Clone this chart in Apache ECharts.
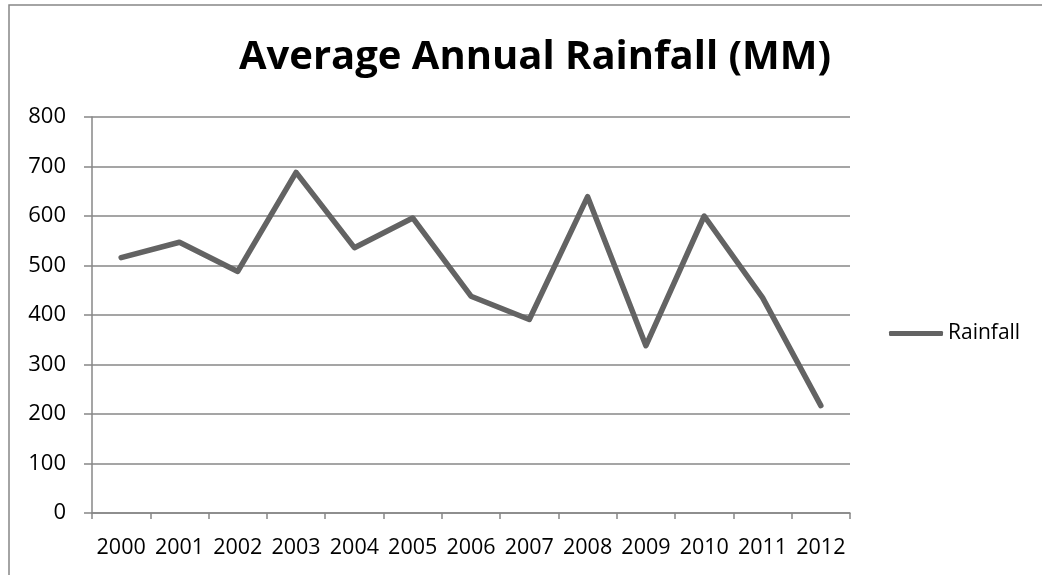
<!DOCTYPE html>
<html><head><meta charset="utf-8">
<script src="https://cdn.jsdelivr.net/npm/echarts@6/dist/echarts.min.js"></script>
<style>html,body{margin:0;padding:0;background:#fff}#c{width:1042px;height:575px}</style>
</head><body><div id="c"></div>
<script>
var years = ['2000','2001','2002','2003','2004','2005','2006','2007','2008','2009','2010','2011','2012'];
var rainfall = [516, 547, 488, 688, 536, 596, 438, 391, 639, 338, 600, 435, 217];
var yTicks = [0, 100, 200, 300, 400, 500, 600, 700, 800];
var seriesName = 'Rainfall';
var titleText = 'Average Annual Rainfall (MM)';

var FONT = '"Open Sans", "Noto Sans", sans-serif';
var chart = echarts.init(document.getElementById('c'));
chart.setOption({
  animation: false,
  title: {
    text: titleText, left: 530, top: 33, textAlign: 'center',
    textStyle: {fontFamily: FONT, fontSize: 40, fontWeight: 'bold', color: '#000'}
  },
  legend: {
    data: [seriesName], left: 889, top: 323, padding: 0, itemWidth: 54, itemHeight: 5,
    icon: 'roundRect',
    textStyle: {fontFamily: FONT, fontSize: 21, color: '#000'}
  },
  graphic: [{
    type: 'rect', shape: {x: 9, y: 5, width: 1100, height: 700}, silent: true,
    style: {fill: 'none', stroke: '#878787', lineWidth: 1.5}
  }],
  grid: {left: 92, right: 192, top: 117, bottom: 62},
  xAxis: {
    type: 'category', data: years, boundaryGap: true,
    axisLine: {lineStyle: {color: '#878787', width: 1.5}},
    axisTick: {show: true, length: 6, alignWithLabel: false, lineStyle: {color: '#878787', width: 1.5}},
    axisLabel: {fontFamily: FONT, fontSize: 21.5, color: '#000', margin: 24, interval: 0}
  },
  yAxis: {
    type: 'value', min: yTicks[0], max: yTicks[yTicks.length-1], interval: 100,
    axisLine: {show: true, lineStyle: {color: '#878787', width: 1.5}},
    axisTick: {show: true, length: 8, lineStyle: {color: '#878787', width: 1.5}},
    axisLabel: {fontFamily: FONT, fontSize: 22, color: '#000', margin: 26},
    splitLine: {lineStyle: {color: '#878787', width: 1.5}}
  },
  series: [{
    name: seriesName, type: 'line', data: rainfall, symbol: 'none',
    lineStyle: {color: '#636363', width: 5.5, cap: 'round', join: 'round'},
    itemStyle: {color: '#636363'}
  }]
});
</script></body></html>
